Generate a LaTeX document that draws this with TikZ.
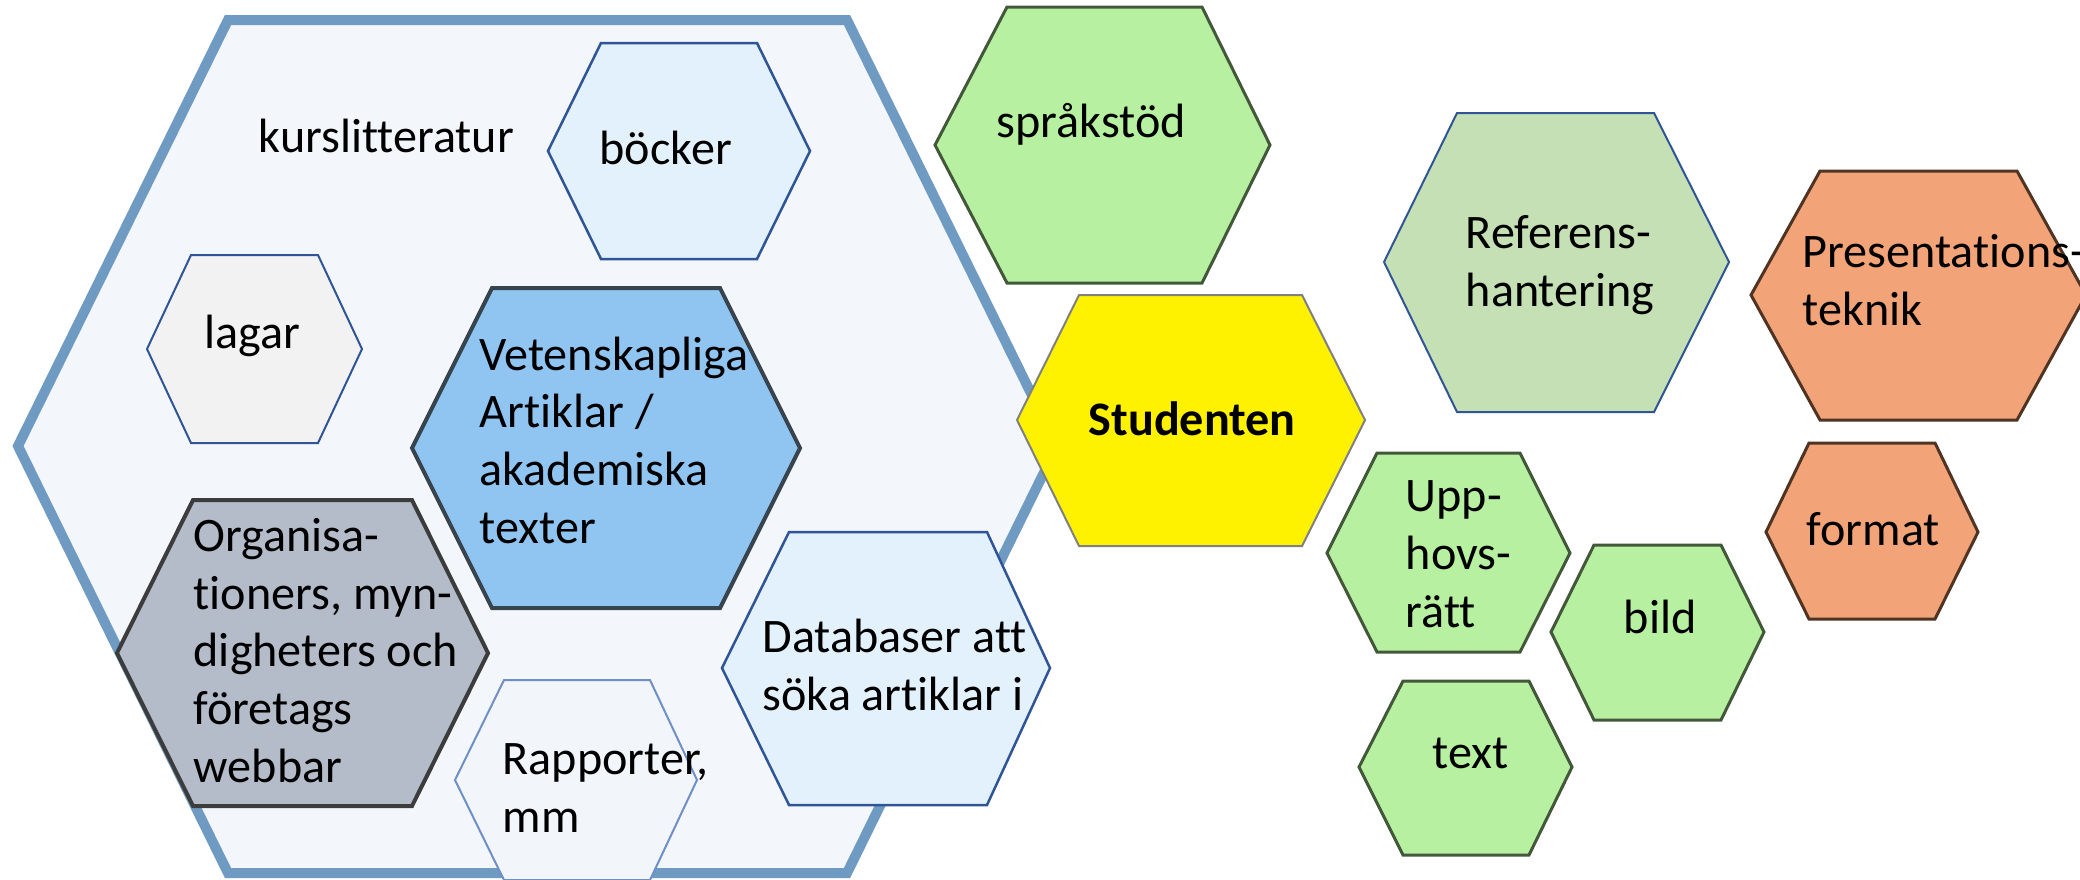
\documentclass[tikz,border=0pt]{standalone}
\usepackage{fontspec}
\setmainfont{Carlito}[Ligatures=NoCommon]
\definecolor{outerc}{HTML}{6F9AC2}
\definecolor{outerf}{HTML}{F3F6FA}
\definecolor{darkblue}{HTML}{2F5597}
\definecolor{lightbluef}{HTML}{E3F1FC}
\definecolor{greyf}{HTML}{F2F2F2}
\definecolor{vetf}{HTML}{90C4F1}
\definecolor{slate}{HTML}{37434D}
\definecolor{orgf}{HTML}{B4BCCA}
\definecolor{darkgrey}{HTML}{3C3C3C}
\definecolor{rapf}{HTML}{F2F6FB}
\definecolor{rapc}{HTML}{6F8FC7}
\definecolor{greenf}{HTML}{B6F0A0}
\definecolor{greenc}{HTML}{43583B}
\definecolor{reff}{HTML}{C5E0B4}
\definecolor{orangef}{HTML}{F2A377}
\definecolor{brownc}{HTML}{4F3323}
\definecolor{studc}{HTML}{808080}
\newcommand\hexpath[8]{\draw[#1] (#2,#7) -- (#3,#6) -- (#4,#6) -- (#5,#7) -- (#4,#8) -- (#3,#8) -- cycle;}
\begin{document}
\begin{tikzpicture}[x=0.1mm,y=-0.1mm,
  outerhex/.style={draw=outerc,fill=outerf,line width=1mm,line join=miter},
  bluehex/.style={draw=darkblue,fill=lightbluef,line width=0.25mm},
  greyhex/.style={draw=darkblue,fill=greyf,line width=0.2mm},
  vethex/.style={draw=slate,fill=vetf,line width=0.4mm},
  orghex/.style={draw=darkgrey,fill=orgf,line width=0.4mm},
  raphex/.style={draw=rapc,fill=rapf,line width=0.2mm},
  greenhex/.style={draw=greenc,fill=greenf,line width=0.3mm},
  studhex/.style={draw=studc,fill=yellow,line width=0.2mm},
  refhex/.style={draw=darkblue,fill=reff,line width=0.2mm},
  orangehex/.style={draw=brownc,fill=orangef,line width=0.3mm},
  lbl/.style={anchor=base west,inner sep=0pt,font=\fontsize{13.7}{16.4}\selectfont,align=left}]
\useasboundingbox (0,0) rectangle (2080,879);
% outer container
\hexpath{outerhex}{18}{228}{847}{1057}{20}{446}{873}
% inner hexagons
\hexpath{bluehex}{548}{601}{757}{810}{43}{151}{259}
\hexpath{greyhex}{147}{191}{318}{362}{255}{349}{443}
\hexpath{vethex}{412}{492}{720}{800}{288}{448}{608}
\hexpath{orghex}{117}{193}{412}{488}{500}{653}{806}
\hexpath{raphex}{455}{504}{650}{697}{680}{780}{880}
\hexpath{bluehex}{722}{789}{987}{1050}{532}{668}{805}
% right side hexagons
\hexpath{greenhex}{935}{1007}{1202}{1270}{7}{145}{283}
\hexpath{studhex}{1017}{1079}{1302}{1365}{295}{420}{546}
\hexpath{refhex}{1384}{1457}{1654}{1729}{113}{262}{412}
\hexpath{orangehex}{1751}{1820}{2017}{2086}{171}{295}{420}
\hexpath{greenhex}{1327}{1377}{1520}{1570}{453}{553}{652}
\hexpath{greenhex}{1551}{1594}{1721}{1764}{545}{632}{720}
\hexpath{greenhex}{1359}{1403}{1529}{1572}{681}{767}{855}
\hexpath{orangehex}{1766}{1809}{1935}{1978}{443}{532}{619}
% labels (multi-line labels anchored at the baseline of their last line)
\node[lbl] (kurs) at (258,152) {kurslitteratur};
\node[lbl] (bocker) at (599,164) {böcker};
\node[lbl] (lagar) at (204,348) {lagar};
\node[lbl] (vet) at (479,543) {Vetenskapliga\\Artiklar /\\akademiska\\texter};
\node[lbl] (org) at (193,782) {Organisa-\\tioners, myn-\\digheters och\\företags\\webbar};
\node[lbl] (rap) at (502,832) {Rapporter,\\mm};
\node[lbl] (db) at (762,710) {Databaser att\\söka artiklar i};
\node[lbl] (sprak) at (996,137) {språkstöd};
\node[lbl,font=\fontsize{13.7}{16.4}\selectfont\bfseries] (stud) at (1088,435) {Studenten};
\node[lbl] (ref) at (1465,306) {Referens-\\hantering};
\node[lbl] (pres) at (1802,325) {Presentations-\\teknik};
\node[lbl] (upp) at (1405,627) {Upp-\\hovs-\\rätt};
\node[lbl] (bild) at (1623,633) {bild};
\node[lbl] (text) at (1432,768) {text};
\node[lbl] (format) at (1806,545) {format};
\end{tikzpicture}
\end{document}
